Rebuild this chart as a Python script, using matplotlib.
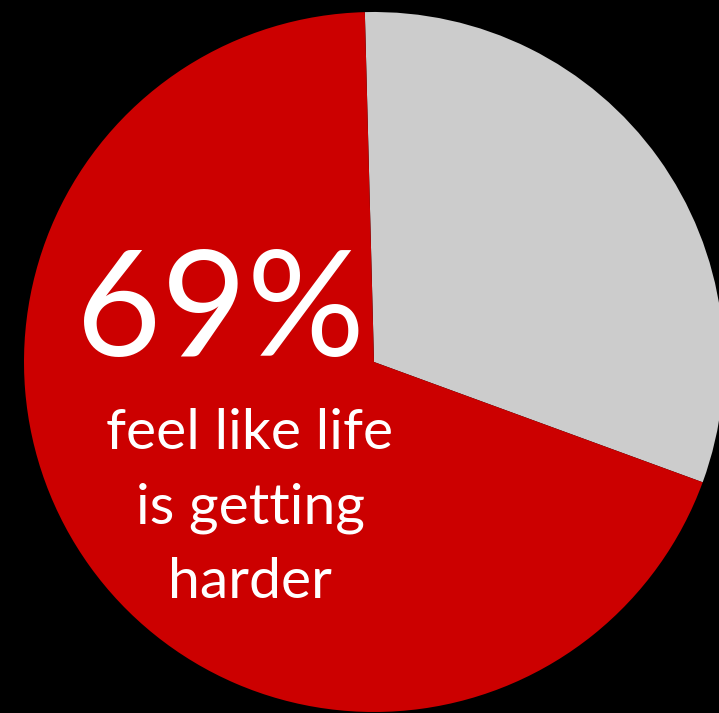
import matplotlib
matplotlib.use('Agg')
import matplotlib.pyplot as plt

# data
labels = ['Not harder', 'Harder']
values = [31, 69]
colors = ['#cccccc', '#cc0000']
big_text = '69%'
caption = 'feel like life\nis getting\nharder'

W, H = 719, 713
fig = plt.figure(figsize=(W / 100, H / 100), dpi=100, facecolor='black')

# pie occupies a 700 px square, slightly cut on the right
ax = fig.add_axes([24 / W, 1 / H, 700 / W, 700 / H])
ax.set_facecolor('black')
ax.pie(values, colors=colors, startangle=91.5, counterclock=False,
       radius=1, wedgeprops={'linewidth': 0})
ax.set_xlim(-1, 1)
ax.set_ylim(-1, 1)
ax.set_aspect('equal')
ax.axis('off')

font = ['Lato', 'DejaVu Sans']
fig.text(220 / W, 1 - 314 / H, big_text, color='white', fontsize=106,
         family=font, weight='normal', ha='center', va='center')
fig.text(250 / W, 1 - 508 / H, caption, color='white', fontsize=41,
         family=font, weight='normal', ha='center', va='center',
         linespacing=1.56)

fig.savefig('out.png', dpi=100, facecolor='black')
